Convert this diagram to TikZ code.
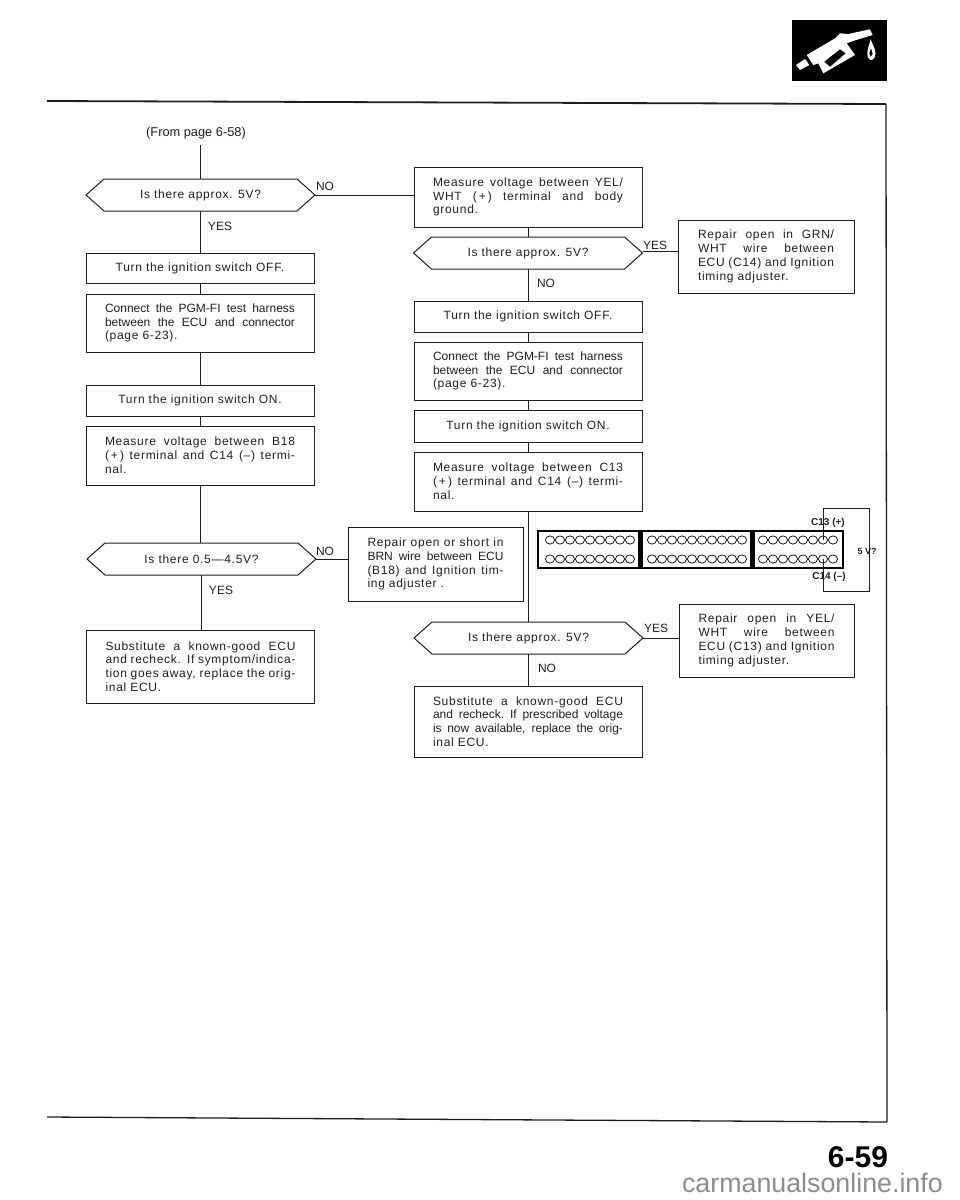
\documentclass[tikz,border=0pt]{standalone}
\usepackage{fontspec}
\setmainfont{Liberation Sans}
\newfontfamily\tx[LetterSpace=6]{Liberation Sans}
\newfontfamily\tn{Liberation Sans}
\definecolor{ink}{HTML}{1E1E1E}
\newcommand\jl[1]{\hbox to \hsize{\spaceskip=.28em plus 1fil\relax #1}\par}
\newcommand\jn[1]{\hbox to \hsize{\tn\spaceskip=.28em plus 1fil\relax #1}\par}
\tikzset{
  wire/.style={draw=ink,line width=1pt},
  boxL/.style={draw=ink,line width=1pt,rectangle,inner sep=0pt,outer sep=0pt,minimum width=228pt,text width=190pt,text=ink,font=\fontsize{12}{13.8}\selectfont\tx},
  boxR/.style={draw=ink,line width=1pt,rectangle,inner sep=0pt,outer sep=0pt,minimum width=176pt,text width=136pt,text=ink,font=\fontsize{12}{13.8}\selectfont\tx},
  hexn/.style={rectangle,inner sep=0pt,outer sep=0pt,minimum width=229pt,minimum height=32pt,text=ink,font=\fontsize{12}{13.8}\selectfont\tx},
  lab/.style={inner sep=0pt,text=ink,font=\fontsize{12}{14}\selectfont},
  pin/.style={inner sep=0pt,text=ink,font=\fontsize{10}{12}\selectfont\bfseries},
  pinhole/.style={draw=ink,line width=.8pt,fill=white},
}
\newcommand\hexa[4]{%
  \node[hexn] (#1) at (#2,#3) {#4};
  \draw[wire] (#1.west) -- ([xshift=18pt]#1.north west) -- ([xshift=-18pt]#1.north east) -- (#1.east) -- ([xshift=-18pt]#1.south east) -- ([xshift=18pt]#1.south west) -- cycle;
}
\begin{document}
\begin{tikzpicture}[x=1pt,y=-1pt]
\useasboundingbox (0,0) rectangle (960,1200);
% frame
\coordinate (ftl) at (47,101);
\coordinate (ftr) at (886,104);
\coordinate (fbr) at (887,1122);
\coordinate (fbl) at (47,1117);
\draw[draw=ink,line width=1.8pt] (ftl) -- (ftr);
\draw[wire,line width=1.3pt] (ftr) -- (fbr);
\draw[wire,line width=1.3pt] (fbr) -- (fbl);
% fuel icon
\fill[black] (792,20) rectangle (887,81);
\begin{scope}[shift={(780,20)},x=.3333pt,y=-.3333pt]
\fill[white] (80,105) -- (165,55) -- (180,40) -- (205,42) -- (270,28) -- (278,45) -- (222,62) -- (200,70) -- (225,105) -- (130,160) -- (115,130) -- (100,135) -- cycle;
\fill[black] (133,125) -- (180,88) -- (197,100) -- (150,140) -- cycle;
\fill[white] (48,135) -- (75,117) -- (88,135) -- (60,150) -- cycle;
\fill[white] (272,58) .. controls (280,80) and (292,95) .. (284,112) .. controls (278,126) and (262,122) .. (262,100) .. controls (262,85) and (268,75) .. (272,58) -- cycle;
\fill[black] (273,85) -- (278,102) -- (272,110) -- (268,100) -- cycle;
\end{scope}
% left column
\node[lab,anchor=center,font=\fontsize{12.8}{14}\selectfont] (from) at (196,133) {(From page 6-58)};
\hexa{d1}{200.5}{195}{Is there approx. 5V?}
\node[boxL,minimum height=30pt,align=center] (a1) at (200,268) {Turn the ignition switch OFF.};
\node[boxL,minimum height=58pt] (a2) at (200,323) {\jn{Connect the PGM-FI test harness}\jn{between the ECU and connector}(page 6-23).};
\node[boxL,minimum height=31pt,align=center] (a3) at (200,400.5) {Turn the ignition switch ON.};
\node[boxL,minimum height=59pt] (a4) at (200,455.5) {\jl{Measure voltage between B18}\jl{(\,+\,) terminal and C14 (–) termi-}nal.};
\hexa{d2}{201.5}{559}{Is there 0.5—4.5V?}
\node[boxL,minimum height=73pt] (a5) at (200.5,666.5) {\jl{Substitute a known-good ECU}\jl{and recheck. If symptom/indica-}\jl{tion goes away, replace the orig-}inal ECU.};
\node[boxR,minimum height=74pt,minimum width=175pt] (sh) at (435.5,564) {\jl{Repair open or short in}\jn{BRN wire between ECU}\jl{(B18) and Ignition tim-}ing adjuster .};
% right column
\node[boxL,minimum height=60pt] (b1) at (528,197) {\jl{Measure voltage between YEL/}\jl{WHT (\,+\,) terminal and body}ground.};
\hexa{d3}{528}{253}{Is there approx. 5V?}
\node[boxR,minimum height=73pt] (gr) at (766,256.5) {\jl{Repair open in GRN/}\jl{WHT wire between}\jl{ECU (C14) and Ignition}timing adjuster.};
\node[boxL,minimum height=31pt,align=center] (b2) at (528,316.5) {Turn the ignition switch OFF.};
\node[boxL,minimum height=58pt] (b3) at (528,371) {\jn{Connect the PGM-FI test harness}\jn{between the ECU and connector}(page 6-23).};
\node[boxL,minimum height=32pt,align=center] (b4) at (528,426) {Turn the ignition switch ON.};
\node[boxL,minimum height=59pt] (b5) at (528,481.5) {\jl{Measure voltage between C13}\jl{(\,+\,) terminal and C14 (–) termi-}nal.};
\hexa{d4}{528.5}{638}{Is there approx. 5V?}
\node[boxL,minimum height=71pt] (b6) at (528,721.5) {\jl{Substitute a known-good ECU}\jn{and recheck. If prescribed voltage}\jn{is now available, replace the orig-}inal ECU.};
\node[boxR,minimum height=73pt,minimum width=175pt] (ye) at (766.5,640.5) {\jl{Repair open in YEL/}\jl{WHT wire between}\jl{ECU (C13) and Ignition}timing adjuster.};
% connectors left
\draw[wire] (d1.north |- from.south) ++(0,6) -- (d1.north);
\draw[wire] (d1.south) -- (d1.south |- a1.north);
\draw[wire] (a1) -- (a2);
\draw[wire] (a2) -- (a3);
\draw[wire] (a3) -- (a4);
\draw[wire] (a4.south) -- (d2.north -| a4.south);
\draw[wire] (d2.south) -- (d2.south |- a5.north);
\draw[wire] (d1.east) -- (d1.east -| b1.west);
\draw[wire] (d2.east) -- (d2.east -| sh.west);
% connectors right
\draw[wire] (b1.south) -- (d3.north -| b1.south);
\draw[wire] (d3.south) -- (d3.south |- b2.north);
\draw[wire] (b2) -- (b3);
\draw[wire] (b3) -- (b4);
\draw[wire] (b4) -- (b5);
\draw[wire] (b5.south) -- (d4.north -| b5.south);
\draw[wire] (d4.south) -- (d4.south |- b6.north);
\draw[wire] ([yshift=2pt]d3.east) -- ([yshift=2pt]d3.east -| gr.west);
\draw[wire] (d4.east) -- (d4.east -| ye.west);
% branch labels
\node[lab] (l1) at (325,186) {NO};
\node[lab] (l2) at (220,226) {YES};
\node[lab] (l3) at (655,245) {YES};
\node[lab] (l4) at (546,283) {NO};
\node[lab] (l5) at (325,551) {NO};
\node[lab] (l6) at (221,590) {YES};
\node[lab] (l7) at (656,628) {YES};
\node[lab] (l8) at (547,668) {NO};
% connector block
\node[draw=black,line width=1.3pt,rectangle,inner sep=0pt,outer sep=0pt,minimum width=305pt,minimum height=37pt] (ecu) at (690.5,549.5) {};
\fill[black] (638,531) rectangle (643,568);
\fill[black] (750,531) rectangle (755,568);
\foreach \r in {540,559}{
  \foreach \i in {0,...,8}{\draw[pinhole] ({550+10*\i},\r) ellipse (4.6 and 4.1);}
  \foreach \i in {0,...,9}{\draw[pinhole] ({652+10*\i},\r) ellipse (4.6 and 4.1);}
  \foreach \i in {0,...,7}{\draw[pinhole] ({763+10*\i},\r) ellipse (4.6 and 4.1);}
}
\coordinate (pp) at (823,540);
\coordinate (pm) at (823,559);
\coordinate (wt) at (869,508);
\coordinate (wb) at (869,591);
\draw[wire] (pp) -- (pp |- wt) -- (wt) -- (wb) -- (pm |- wb) -- (pm);
\node[pin] (c13) at (828,523) {C13 (+)};
\node[pin] (c14) at (829,577) {C14 (–)};
\node[pin,font=\fontsize{9}{11}\selectfont\bfseries] (v5) at (867,551) {5 V?};
% page number
\node[inner sep=0pt,text=black,font=\fontsize{30}{32}\selectfont\bfseries] (pg) at (858,1157) {6-59};
\node[inner sep=0pt,anchor=east,text=black!45,font=\fontsize{26.8}{29}\selectfont] (wm) at (943,1183) {carmanualsonline.info};
\end{tikzpicture}
\end{document}
